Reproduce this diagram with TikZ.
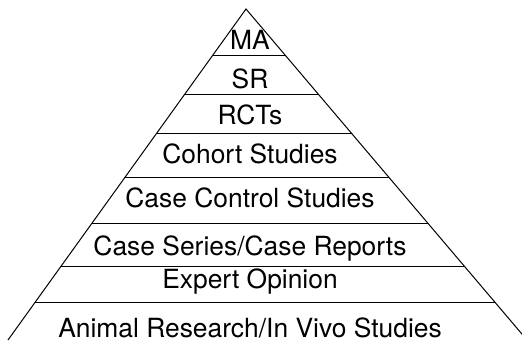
\documentclass[tikz,border=0pt]{standalone}
\usepackage{fontspec}
\setmainfont{TeX Gyre Heros}
\usetikzlibrary{calc}

\begin{document}
\begin{tikzpicture}[x=1pt,y=-1pt]
\tikzset{level/.style={anchor=base,inner sep=0pt,font=\fontsize{26.4}{30}\selectfont}}
\tikzset{edge/.style={line width=1pt,line join=miter}}
\useasboundingbox (0,0) rectangle (522,340);
\begin{scope}
  \clip (0,0) rectangle (522,340);
  \draw[edge] (8,340) coordinate(L) -- (246,9) coordinate(T) -- (527,340) coordinate(R);
  \foreach \y in {56,94.3,133.3,177.3,223.3,266.7,302.3}
    \draw[edge] ($(T)!{(\y-9)/331}!(L)$) -- ($(T)!{(\y-9)/331}!(R)$);
\end{scope}
\node[level] (ma) at (250,49) {MA};
\node[level] (sr) at (250,88) {SR};
\node[level] (rct) at (250,124) {RCTs};
\node[level] (cohort) at (250,163) {Cohort Studies};
\node[level] (casecontrol) at (250,207) {Case Control Studies};
\node[level] (caseseries) at (250,255) {Case Series/Case Reports};
\node[level] (expert) at (250,288) {Expert Opinion};
\node[level] (animal) at (250,337) {Animal Research/In Vivo Studies};
\end{tikzpicture}
\end{document}
